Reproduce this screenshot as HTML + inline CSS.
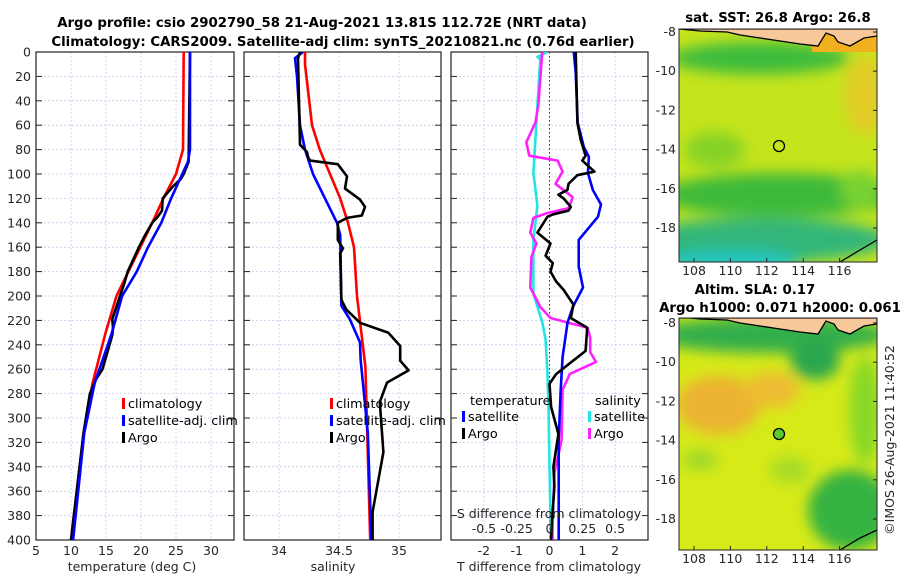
<!DOCTYPE html>
<html><head><meta charset="utf-8"><style>
html,body{margin:0;padding:0;background:#fff}
svg{display:block;font-family:"DejaVu Sans","Liberation Sans",sans-serif}
.tk{font-size:12.5px;fill:#262626}
.ttl{font-size:13.3px;font-weight:bold;fill:#000}
.lg{font-size:12.8px;fill:#000}
</style></head><body>
<svg id="fig" width="900" height="580" viewBox="0 0 900 580" xmlns="http://www.w3.org/2000/svg">
<defs>
<filter id="blur1" x="-20%" y="-20%" width="140%" height="140%"><feGaussianBlur stdDeviation="7"/></filter>
<clipPath id="c1"><rect x="679" y="29" width="198" height="233"/></clipPath>
<clipPath id="c2"><rect x="679" y="318" width="198" height="232"/></clipPath>
<clipPath id="p1"><rect x="36" y="52" width="198" height="488"/></clipPath>
<clipPath id="p2"><rect x="244" y="52" width="197" height="488"/></clipPath>
<clipPath id="p3"><rect x="451" y="52" width="197" height="488"/></clipPath>
</defs>
<text class="ttl" x="322" y="27" text-anchor="middle">Argo profile: csio 2902790_58 21-Aug-2021 13.81S 112.72E (NRT data)</text>
<text class="ttl" x="343" y="46" text-anchor="middle">Climatology: CARS2009. Satellite-adj clim: synTS_20210821.nc (0.76d earlier)</text>
<g id="panels"></g>

<!-- Map 1 -->
<g>
<text class="ttl" x="778" y="22" text-anchor="middle" font-size="12.5">sat. SST: 26.8 Argo: 26.8</text>
<g clip-path="url(#c1)">
<rect x="679" y="29" width="198" height="233" fill="#c4e41c"/>
<g filter="url(#blur1)">
<ellipse cx="760" cy="58" rx="90" ry="16" fill="#3cbc3c"/>
<ellipse cx="865" cy="95" rx="20" ry="40" fill="#e2cc28"/>
<ellipse cx="715" cy="150" rx="30" ry="18" fill="#86d228"/>
<ellipse cx="780" cy="195" rx="120" ry="22" fill="#3cba3a"/>
<ellipse cx="760" cy="240" rx="130" ry="22" fill="#30b67a"/>
<ellipse cx="730" cy="262" rx="70" ry="12" fill="#22c4c0"/>
<ellipse cx="860" cy="190" rx="20" ry="20" fill="#78d230"/>
</g>
<polygon points="812,29 877,29 877,52 812,52" fill="#f0b020"/>
<polygon points="679,29 877,29 877,36 864,38 850,46 838,42 834,36 826,33 818,46 800,44 780,41 760,38 740,35 727,32 700,31 690,30" fill="#f7c89a" stroke="#000" stroke-width="1.3"/>
<polyline points="840,262 860,250 877,240" fill="none" stroke="#000" stroke-width="1.3"/>
<circle cx="779" cy="146" r="5.5" fill="none" stroke="#000" stroke-width="1.3"/>
</g>
<rect x="679" y="29" width="198" height="233" fill="none" stroke="#222" stroke-width="1"/>
</g>

<!-- Map 2 -->
<g>
<text class="ttl" x="755" y="294" text-anchor="middle" font-size="12.5">Altim. SLA: 0.17</text>
<text class="ttl" x="780" y="312" text-anchor="middle" font-size="12.5">Argo h1000: 0.071 h2000: 0.061</text>
<g clip-path="url(#c2)">
<rect x="679" y="318" width="198" height="232" fill="#d6ea18"/>
<g filter="url(#blur1)">
<ellipse cx="770" cy="335" rx="120" ry="18" fill="#30ae4c"/>
<ellipse cx="815" cy="360" rx="25" ry="20" fill="#2aa650"/>
<ellipse cx="718" cy="405" rx="42" ry="30" fill="#ecb430"/>
<ellipse cx="772" cy="390" rx="28" ry="18" fill="#eebc30"/>
<ellipse cx="865" cy="410" rx="16" ry="55" fill="#88d828"/>
<ellipse cx="850" cy="510" rx="42" ry="40" fill="#34b242"/>
<ellipse cx="700" cy="460" rx="18" ry="10" fill="#9ed82a"/>
<ellipse cx="790" cy="470" rx="20" ry="14" fill="#a8dc26"/>
</g>
<polygon points="679,318 877,318 877,324 864,326 850,334 838,330 834,324 826,321 818,334 800,332 780,329 760,326 740,323 727,320 700,319 690,318" fill="#f7c89a" stroke="#000" stroke-width="1.3"/>
<polyline points="840,550 860,538 877,530" fill="none" stroke="#000" stroke-width="1.3"/>
<circle cx="779" cy="434" r="5.5" fill="#5cc832" stroke="#000" stroke-width="1.3"/>
</g>
<rect x="679" y="318" width="198" height="232" fill="none" stroke="#222" stroke-width="1"/>
</g>
<g id="mapaxes"></g>
<text class="tk" x="0" y="0" transform="translate(894,440) rotate(-90)" text-anchor="middle" font-size="12.5">©IMOS 26-Aug-2021 11:40:52</text>
</svg>
<script>
// ---- Panel 1: temperature ----
const climT_d=[0,80,100,120,140,160,180,200,231,271,312,400];
const climT=[26.1,26,25,23.2,21.6,19.9,18.2,16.5,14.9,13.1,11.8,10];
const satT_d=[0,80,90,100,120,140,160,180,200,231,271,312,400];
const satT=[27,27,26.7,25.9,24.3,22.9,21,19.4,17.3,15.8,13.4,11.9,10.3];
const argoT_d=[0,90,100,104,110,120,130,135,140,150,160,170,180,190,200,219,226,232,260,268,280,312,400];
const argoT=[27,26.8,26.1,25.7,24.6,23.1,23,22.4,21.6,20.6,19.7,18.9,18.1,17.6,17,15.9,16,15.9,14.5,13.6,12.7,11.8,10];
// ---- Panel 2: salinity ----
const climS_d=[0,10,60,80,100,120,140,160,200,258,400];
const climS=[34.217,34.217,34.275,34.34,34.425,34.51,34.575,34.625,34.65,34.72,34.76];
const satS_d=[0,5,20,60,80,100,120,140,150,208,219,238,252,312,400];
const satS=[34.2,34.133,34.15,34.175,34.217,34.283,34.383,34.483,34.51,34.52,34.59,34.675,34.68,34.74,34.77];
const argoS_d=[0,5,76,82,86,89,92,102,112,121,127,134,136,140,154,161,165,203,211,222,230,241,253,261,271,287,328,377,400];
const argoS=[34.175,34.158,34.175,34.233,34.242,34.258,34.49,34.567,34.55,34.675,34.717,34.69,34.567,34.49,34.49,34.533,34.51,34.52,34.56,34.675,34.91,35.01,35.01,35.08,34.9,34.84,34.87,34.78,34.78];
// ---- Panel 3: differences ----
const dTsat_d=[0,17,58,78,86,99,113,125,135,154,176,193,209,222,250,277,318,400];
const dTsat=[0.74,0.8,0.86,1.05,1.2,1.17,1.32,1.57,1.48,0.89,0.89,1.02,0.71,0.55,0.4,0.34,0.28,0.28];
const dTargo_d=[0,58,72,85,89,98,101,108,113,117,120,127,130,133,135,148,157,167,173,180,188,195,207,218,226,245,256,264,272,291,313,340,356,384,400];
const dTargo=[0.8,0.85,0.95,1.1,1.0,1.37,0.85,0.58,0.55,0.27,0.43,0.65,0.58,0.12,-0.06,-0.37,0.03,-0.12,0.1,0.03,0.2,0.43,0.73,0.65,1.15,1.1,0.58,0.2,0.0,0.05,0.27,0.12,0.15,0.08,0.05];
const dSsat_d=[0,4,6,44,99,126,154,198,222,236,264,291,384,400];
const dSsat=[-0.015,-0.092,-0.07,-0.092,-0.123,-0.092,-0.123,-0.123,-0.054,-0.03,-0.015,-0.008,0.008,0.008];
const dSargo_d=[0,44,58,74,85,89,98,108,119,128,132,136,148,157,168,193,209,218,226,234,246,254,264,277,318,345,384,400];
const dSargo=[-0.056,-0.085,-0.108,-0.177,-0.154,0.062,0.1,0.046,0.177,0.146,-0.015,-0.123,-0.146,-0.1,-0.138,-0.146,-0.07,0.008,0.29,0.31,0.31,0.354,0.154,0.1,0.092,0.038,0.023,0.023];
// ticks
const depthTicks=[0,20,40,60,80,100,120,140,160,180,200,220,240,260,280,300,320,340,360,380,400];
const tTicks=[5,10,15,20,25,30];
const sTicks=[34,34.5,35];
const dTTicks=[-2,-1,0,1,2];
const dSTicks=[-0.5,-0.25,0,0.25,0.5];
const dSLabels=["-0.5","-0.25","0","0.25","0.5"];
const lonTicks=[108,110,112,114,116];
const latTicks=[-8,-10,-12,-14,-16,-18];

const NS='http://www.w3.org/2000/svg';
const root=document.getElementById('panels');
function mk(tag,attrs,parent){const e=document.createElementNS(NS,tag);for(const k in attrs)e.setAttribute(k,attrs[k]);(parent||root).appendChild(e);return e;}
const Y=d=>52+d*1.22;
const X1=t=>36+(t-5)*7;
const X2=s=>279+(s-34)*120;
const X3T=t=>549.5+t*32.8;
const X3S=s=>549.5+s*131.2;

function frame(x0,x1,xt,xfn,labels,xlabel,xlabelX,name){
  const g=mk('g',{});
  
  
  depthTicks.forEach(d=>{const l=mk('line',{x1:x0,x2:x1,y1:Y(d),y2:Y(d),stroke:'#c4cbee','stroke-width':0.8,'stroke-dasharray':'2,2'},g);
    
    
    mk('line',{x1:x0,x2:x0+6,y1:Y(d),y2:Y(d),stroke:'#222'},g);mk('line',{x1:x1-6,x2:x1,y1:Y(d),y2:Y(d),stroke:'#222'},g);});
  xt.forEach((v,i)=>{const x=xfn(v);const l=mk('line',{x1:x,x2:x,y1:52,y2:540,stroke:'#c4cbee','stroke-width':0.8,'stroke-dasharray':'2,2'},g);
    
    
    if(labels){const t=mk('text',{x:x,y:555,'text-anchor':'middle',class:'tk'},g);t.textContent=labels[i];
      
      }});
  mk('rect',{x:x0,y:52,width:x1-x0,height:488,fill:'none',stroke:'#222','stroke-width':1.2},g);
  const xl=mk('text',{x:xlabelX,y:571,'text-anchor':'middle',class:'tk','font-size':'13'},g);xl.textContent=xlabel;
  
  
  return g;
}
function series(ds,vs,xfn,color,name,clip){
  const pts=ds.map((d,i)=>xfn(vs[i]).toFixed(1)+','+Y(d).toFixed(1)).join(' ');
  const p=mk('polyline',{points:pts,fill:'none',stroke:color,'stroke-width':2.6,'stroke-linejoin':'round','clip-path':'url(#'+clip+')'});
  
  
}
function legend(x,y,color,label,name){
  const g=mk('g',{});
  
  
  mk('rect',{x:x,y:y-10,width:3,height:11,fill:color},g);
  const t=mk('text',{x:x+6,y:y,class:'lg'},g);t.textContent=label;
}
depthTicks.forEach(d=>{const t=mk('text',{x:31,y:Y(d)+4.5,'text-anchor':'end',class:'tk'});t.textContent=d;
  
  });

frame(36,234,tTicks,X1,tTicks.map(String),'temperature (deg C)',132,'temperature-panel');
series(climT_d,climT,X1,'#ff0000','temp-climatology-line','p1');
series(argoT_d,argoT,X1,'#000000','temp-argo-line','p1');
series(satT_d,satT,X1,'#0000ff','temp-satellite-line','p1');
legend(122,408,'#ff0000','climatology','legend-climatology');
legend(122,425,'#0000ff','satellite-adj. clim','legend-satellite');
legend(122,442,'#000000','Argo','legend-argo');

frame(244,441,sTicks,X2,['34','34.5','35'],'salinity',333,'salinity-panel');
series(climS_d,climS,X2,'#ff0000','sal-climatology-line','p2');
series(satS_d,satS,X2,'#0000ff','sal-satellite-line','p2');
series(argoS_d,argoS,X2,'#000000','sal-argo-line','p2');
legend(330,408,'#ff0000','climatology','legend-climatology-2');
legend(330,425,'#0000ff','satellite-adj. clim','legend-satellite-2');
legend(330,442,'#000000','Argo','legend-argo-2');

frame(451,648,dTTicks,X3T,dTTicks.map(String),'T difference from climatology',549,'difference-panel');
const zl=mk('line',{x1:549.5,x2:549.5,y1:52,y2:540,stroke:'#333','stroke-width':1,'stroke-dasharray':'1.5,2.5'});


series(dSsat_d,dSsat,X3S,'#22e6e6','dsal-satellite-line','p3');
series(dSargo_d,dSargo,X3S,'#ff22ff','dsal-argo-line','p3');
series(dTsat_d,dTsat,X3T,'#0000ff','dtemp-satellite-line','p3');
series(dTargo_d,dTargo,X3T,'#000000','dtemp-argo-line','p3');
dSTicks.forEach((v,i)=>{const t=mk('text',{x:X3S(v),y:533,'text-anchor':'middle',class:'tk'});t.textContent=dSLabels[i];
  
  });
const st=mk('text',{x:549,y:518,'text-anchor':'middle',class:'tk','font-size':'13'});st.textContent='S difference from climatology';


const lt=mk('text',{x:470,y:405,class:'lg'});lt.textContent='temperature';


const ls=mk('text',{x:595,y:405,class:'lg'});ls.textContent='salinity';


legend(462,421,'#0000ff','satellite','legend-dtemp-satellite');
legend(462,438,'#000000','Argo','legend-dtemp-argo');
legend(588,421,'#22e6e6','satellite','legend-dsal-satellite');
legend(588,438,'#ff22ff','Argo','legend-dsal-argo');

const ma=document.getElementById('mapaxes');
const LX=lon=>694+(lon-108)*18.2;
[[29,262,32,19.6],[318,550,323,19.6]].forEach(([top,bot,y8,k])=>{
  lonTicks.forEach(l=>{const t=mk('text',{x:LX(l),y:bot+13,'text-anchor':'middle',class:'tk'},ma);t.textContent=l;
    
    
    mk('line',{x1:LX(l),x2:LX(l),y1:bot,y2:bot-4,stroke:'#222'},ma);});
  latTicks.forEach(l=>{const y=y8+(-8-l)*k;const t=mk('text',{x:676,y:y+4,'text-anchor':'end',class:'tk'},ma);t.textContent=l;
    
    
    mk('line',{x1:877,x2:873,y1:y,y2:y,stroke:'#222'},ma);});
});
</script>
</body></html>
